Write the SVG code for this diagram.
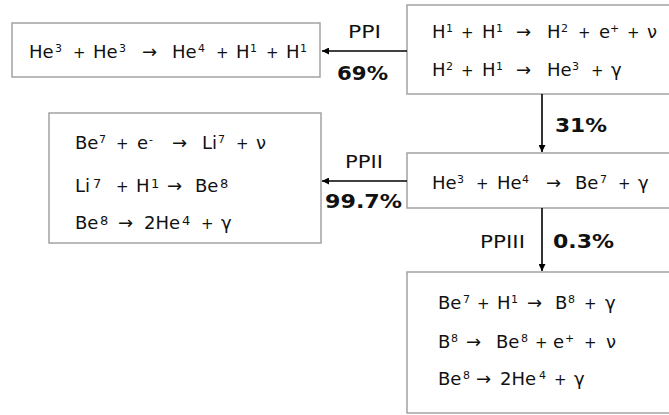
<svg xmlns="http://www.w3.org/2000/svg" width="669" height="415" viewBox="0 0 669 415">
<defs>
<marker id="ah" viewBox="0 0 10 10" refX="10" refY="5" markerWidth="9" markerHeight="7" markerUnits="userSpaceOnUse" orient="auto">
<path d="M0,0 L10,5 L0,10 z" fill="#000"/>
</marker>
</defs>
<style>
.box{fill:#fff;stroke:#a3a3a3;stroke-width:1.5}
.t{font-family:"DejaVu Sans","Verdana",sans-serif;font-size:18px;fill:#111}
.s{font-size:11px}
.s2{font-size:13px}
.p{font-size:15px}
.lb{font-family:"DejaVu Sans","Verdana",sans-serif;font-size:17px;fill:#111}
.bd{font-family:"DejaVu Sans","Verdana",sans-serif;font-size:19px;font-weight:bold;fill:#111}
.c{stroke:#000;stroke-width:1.6;fill:none}
</style>
<rect width="669" height="415" fill="#fff"/>

<g id="ppi-result">
<rect class="box" x="12" y="23" width="308" height="54"/>
<text class="t" y="58"><tspan x="29">He</tspan><tspan class="s" x="55" y="52">3</tspan><tspan class="p" x="73" y="58">+</tspan><tspan x="93">He</tspan><tspan class="s" x="119" y="52">3</tspan><tspan x="142" y="58">→</tspan><tspan x="172">He</tspan><tspan class="s" x="198" y="52">4</tspan><tspan class="p" x="216" y="58">+</tspan><tspan x="236">H</tspan><tspan class="s" x="250" y="52">1</tspan><tspan class="p" x="266" y="58">+</tspan><tspan x="286">H</tspan><tspan class="s" x="300" y="52">1</tspan></text>
</g>

<g id="pp-start">
<rect class="box" x="407" y="5" width="270" height="89"/>
<text class="t" y="38"><tspan x="432">H</tspan><tspan class="s" x="446" y="32">1</tspan><tspan class="p" x="461" y="38">+</tspan><tspan x="482">H</tspan><tspan class="s" x="496" y="32">1</tspan><tspan x="516" y="38">→</tspan><tspan x="547">H</tspan><tspan class="s" x="561" y="32">2</tspan><tspan class="p" x="578" y="38">+</tspan><tspan x="599">e</tspan><tspan class="s" x="610" y="32">+</tspan><tspan class="p" x="627" y="38">+</tspan><tspan x="647">ν</tspan></text>
<text class="t" y="76"><tspan x="432">H</tspan><tspan class="s" x="446" y="70">2</tspan><tspan class="p" x="461" y="76">+</tspan><tspan x="482">H</tspan><tspan class="s" x="496" y="70">1</tspan><tspan x="516" y="76">→</tspan><tspan x="547">He</tspan><tspan class="s" x="572" y="70">3</tspan><tspan class="p" x="591" y="76">+</tspan><tspan x="611">γ</tspan></text>
</g>

<g id="ppii-result">
<rect class="box" x="49" y="113" width="272" height="130"/>
<text class="t" y="149"><tspan x="75">Be</tspan><tspan class="s" x="99" y="143">7</tspan><tspan class="p" x="116" y="149">+</tspan><tspan x="137">e</tspan><tspan class="s" x="149" y="143">-</tspan><tspan x="172" y="149">→</tspan><tspan x="202">Li</tspan><tspan class="s" x="218" y="143">7</tspan><tspan class="p" x="236" y="149">+</tspan><tspan x="256">ν</tspan></text>
<text class="t" y="192"><tspan x="75">Li</tspan><tspan class="s2" x="93" y="188">7</tspan><tspan class="p" x="116" y="192">+</tspan><tspan x="136">H</tspan><tspan class="s2" x="151" y="188">1</tspan><tspan x="167" y="192">→</tspan><tspan x="195">Be</tspan><tspan class="s2" x="220" y="188">8</tspan></text>
<text class="t" y="229"><tspan x="75">Be</tspan><tspan class="s2" x="100" y="225">8</tspan><tspan x="118" y="229">→</tspan><tspan x="144">2He</tspan><tspan class="s2" x="182" y="225">4</tspan><tspan class="p" x="201" y="229">+</tspan><tspan x="221">γ</tspan></text>
</g>

<g id="he-he">
<rect class="box" x="407" y="153" width="270" height="55"/>
<text class="t" y="189"><tspan x="432">He</tspan><tspan class="s" x="457" y="183">3</tspan><tspan class="p" x="476" y="189">+</tspan><tspan x="497">He</tspan><tspan class="s" x="522" y="183">4</tspan><tspan x="546" y="189">→</tspan><tspan x="575">Be</tspan><tspan class="s" x="600" y="183">7</tspan><tspan class="p" x="618" y="189">+</tspan><tspan x="638">γ</tspan></text>
</g>

<g id="ppiii-result">
<rect class="box" x="407" y="272" width="270" height="141"/>
<text class="t" y="309"><tspan x="438">Be</tspan><tspan class="s" x="463" y="303">7</tspan><tspan class="p" x="477" y="309">+</tspan><tspan x="497">H</tspan><tspan class="s" x="511" y="303">1</tspan><tspan x="527" y="309">→</tspan><tspan x="555">B</tspan><tspan class="s" x="568" y="303">8</tspan><tspan class="p" x="584" y="309">+</tspan><tspan x="605">γ</tspan></text>
<text class="t" y="348"><tspan x="438">B</tspan><tspan class="s" x="451" y="342">8</tspan><tspan x="466" y="348">→</tspan><tspan x="496">Be</tspan><tspan class="s" x="521" y="342">8</tspan><tspan class="p" x="535" y="348">+</tspan><tspan x="553">e</tspan><tspan class="s" x="565" y="342">+</tspan><tspan class="p" x="584" y="348">+</tspan><tspan x="606">ν</tspan></text>
<text class="t" y="385"><tspan x="438">Be</tspan><tspan class="s" x="463" y="379">8</tspan><tspan x="476" y="385">→</tspan><tspan x="500">2He</tspan><tspan class="s" x="539" y="379">4</tspan><tspan class="p" x="554" y="385">+</tspan><tspan x="574">γ</tspan></text>
</g>

<g id="connectors">
<line class="c" x1="407" y1="51" x2="322" y2="51" marker-end="url(#ah)"/>
<line class="c" x1="407" y1="181" x2="322" y2="181" marker-end="url(#ah)"/>
<line class="c" x1="542" y1="94" x2="542" y2="152" marker-end="url(#ah)"/>
<line class="c" x1="542" y1="208" x2="542" y2="271" marker-end="url(#ah)"/>
<text class="lb" x="348" y="38" textLength="33" lengthAdjust="spacingAndGlyphs">PPI</text>
<text class="bd" x="337" y="80" textLength="51" lengthAdjust="spacingAndGlyphs">69%</text>
<text class="lb" x="345" y="168" textLength="38" lengthAdjust="spacingAndGlyphs">PPII</text>
<text class="bd" x="325" y="208" textLength="77" lengthAdjust="spacingAndGlyphs">99.7%</text>
<text class="bd" x="555" y="132" textLength="52" lengthAdjust="spacingAndGlyphs">31%</text>
<text class="lb" x="480" y="248" textLength="45" lengthAdjust="spacingAndGlyphs">PPIII</text>
<text class="bd" x="553" y="248" textLength="61" lengthAdjust="spacingAndGlyphs">0.3%</text>
</g>
</svg>
